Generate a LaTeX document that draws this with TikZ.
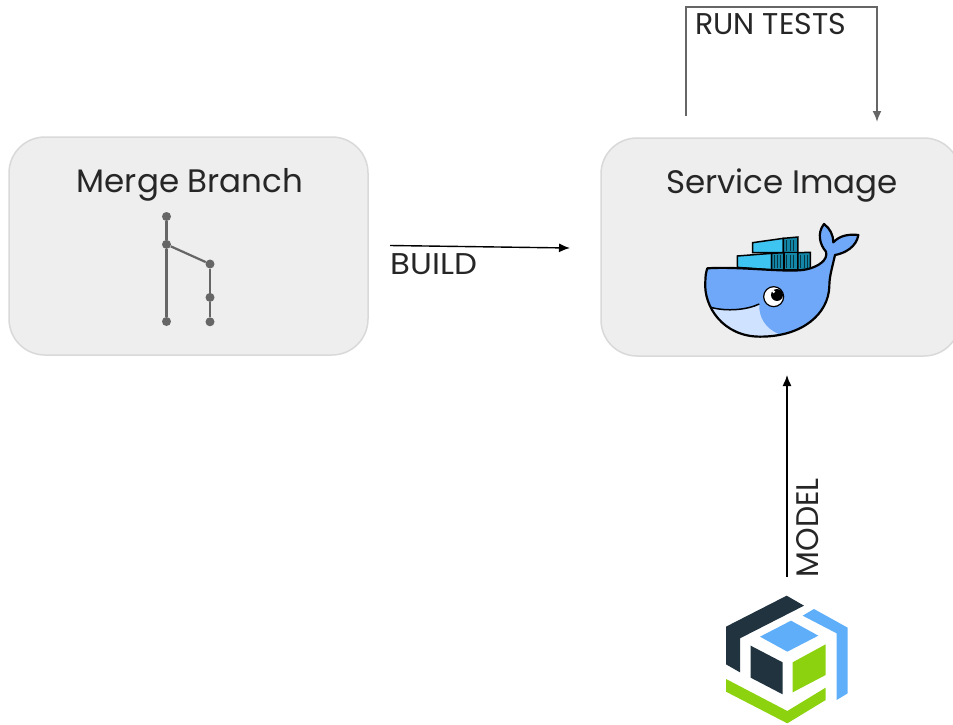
\documentclass[tikz,border=0pt]{standalone}
\usepackage{fontspec}
\setmainfont{Poppins}
\usetikzlibrary{positioning}
\usetikzlibrary{arrows.meta}
\definecolor{boxfill}{HTML}{EEEEEE}
\definecolor{boxline}{HTML}{D9D9D9}
\definecolor{gitgray}{HTML}{666666}
\definecolor{whaleblue}{HTML}{6FA8F8}
\definecolor{bellyblue}{HTML}{CFE2FF}
\definecolor{crateblue}{HTML}{3EC4F0}
\definecolor{cratedark}{HTML}{1486A8}
\definecolor{logodark}{HTML}{20333F}
\definecolor{logoblue}{HTML}{5FAEFA}
\definecolor{logogreen}{HTML}{8CD20E}
\begin{document}
\begin{tikzpicture}
		[x=1pt, y=-1pt, >={Latex[length=11pt, width=9pt]},
		panel/.style={draw=boxline, line width=1.5pt, fill=boxfill, rounded corners=36pt, minimum width=359pt, minimum height=218pt, inner sep=0pt},
		heading/.style={font=\fontsize{32.5}{36}\selectfont, text=black!85},
		tag/.style={font=\fontsize{30}{34}\selectfont, text=black!85, inner sep=0pt},
		commit/.style={circle, fill=gitgray, inner sep=0pt, minimum size=9pt},
		gitline/.style={draw=gitgray, line width=2.2pt},
		crate/.style={fill=crateblue, draw=black, line width=1.5pt},
		cratebox/.style={fill=cratedark, draw=black, line width=1.5pt}]
		\useasboundingbox (0,0) rectangle (953,724);
		\clip (0,0) rectangle (953,724);

		\node[panel] (merge) at (188.5,246) {};
		\node[panel] (service) at (780.5,247) {};
		\node[heading] (mergetitle) at (190,185) {Merge Branch};
		\node[heading] (servicetitle) at (782,186) {Service Image};

		% git graph
		\node[commit] (c1) at (166.5,216.5) {};
		\node[commit, below=18.5pt of c1] (c2) {};
		\node[commit] (c3) at (166.5,321.5) {};
		\node[commit] (c4) at (210,264) {};
		\node[commit, below=24pt of c4] (c5) {};
		\node[commit, below=15pt of c5] (c6) {};
		\draw[gitline] (c1) -- (c2);
		\draw[gitline] (c2) -- (c3);
		\draw[gitline] (c2) -- (c4);
		\draw[gitline] (c4) -- (c5);
		\draw[gitline] (c5) -- (c6);

		% build
		\coordinate (buildstart) at (390,245.5);
		\coordinate (buildend) at (570,248);
		\draw[->, line width=1.4pt] (buildstart) -- (buildend);
		\node[tag, xscale=1.08, anchor=north west] (build) at (390.5,253.5) {BUILD};

		% run tests
		\coordinate (testsstart) at (686,115.5);
		\coordinate (testsend) at (877,122);
		\draw[->, draw=gitgray, line width=1.8pt] (testsstart) |- (877,7) -- (testsend);
		\node[tag, anchor=north west] (tests) at (695,13.5) {RUN TESTS};

		% model
		\coordinate (modelstart) at (787,577);
		\coordinate (modelend) at (787,375);
		\draw[->, line width=1.4pt] (modelstart) -- (modelend);
		\node[tag, xscale=1.04, rotate=90, anchor=north west] (model) at (796.5,577.5) {MODEL};

		% whale
		\begin{scope}[shift={(680,210)}, scale=0.3333]
			\filldraw[crate] (218,98) -- (310,85) -- (310,128) -- (218,128) -- cycle;
			\filldraw[cratebox] (310,85) -- (354,81) -- (354,128) -- (310,128) -- cycle;
			\filldraw[crate] (172,138) -- (275,130) -- (275,180) -- (172,172) -- cycle;
			\filldraw[cratebox] (275,130) -- (312,128) -- (312,180) -- (275,180) -- cycle;
			\filldraw[cratebox] (312,128) -- (354,128) -- (354,180) -- (312,180) -- cycle;
			\filldraw[cratebox] (354,128) -- (391,127) -- (391,178) -- (354,180) -- cycle;
			\foreach \sx in {282,292,302,320,330,340,362,372,382}
				\draw[black!60!cratedark, line width=0.6pt] (\sx,134) -- (\sx,174);
			\foreach \sx in {320,330,340}
				\draw[black!60!cratedark, line width=0.6pt] (\sx,90) -- (\sx,122);
			\fill[whaleblue] (82,175) .. controls (180,168) and (330,190) .. (380,178)
				.. controls (415,170) and (445,150) .. (438,125)
				.. controls (420,105) and (410,70) .. (432,42)
				.. controls (450,55) and (460,75) .. (460,97)
				.. controls (480,75) and (510,72) .. (535,75)
				.. controls (530,110) and (495,130) .. (465,135)
				.. controls (455,180) and (448,200) .. (448,230)
				.. controls (445,310) and (370,380) .. (240,380)
				.. controls (130,380) and (70,290) .. (76,215)
				.. controls (76,200) and (78,185) .. (82,175) -- cycle;
			\fill[bellyblue] (92,292) .. controls (140,305) and (200,300) .. (238,282)
				.. controls (235,320) and (255,355) .. (295,372)
				.. controls (275,378) and (255,380) .. (240,380)
				.. controls (170,380) and (115,345) .. (92,292) -- cycle;
			\draw[black, line width=1.5pt] (92,292) .. controls (140,305) and (200,300) .. (238,282);
			\draw[black, line width=2.2pt, line join=round] (82,175) .. controls (180,168) and (330,190) .. (380,178)
				.. controls (415,170) and (445,150) .. (438,125)
				.. controls (420,105) and (410,70) .. (432,42)
				.. controls (450,55) and (460,75) .. (460,97)
				.. controls (480,75) and (510,72) .. (535,75)
				.. controls (530,110) and (495,130) .. (465,135)
				.. controls (455,180) and (448,200) .. (448,230)
				.. controls (445,310) and (370,380) .. (240,380)
				.. controls (130,380) and (70,290) .. (76,215)
				.. controls (76,200) and (78,185) .. (82,175) -- cycle;
			\filldraw[fill=white, draw=black, line width=1.2pt] (281,260) circle (30);
			\fill[black] (291,255) circle (18);
			\fill[white] (281,245) circle (5);
		\end{scope}

		% model logo
		\begin{scope}[shift={(710,585)}, scale=0.3333]
			\fill[logodark] (48,125) -- (230,32) -- (282,62) -- (90,160) -- (90,262) -- (48,238) -- cycle;
			\fill[logoblue] (278,92) -- (312,72) -- (413,128) -- (413,325) -- (380,345) -- (380,145) -- cycle;
			\fill[logoblue] (150,155) -- (243,107) -- (325,152) -- (232,200) -- cycle;
			\fill[logodark] (122,182) -- (218,232) -- (218,328) -- (122,278) -- cycle;
			\fill[logogreen] (248,232) -- (347,178) -- (347,270) -- (248,322) -- cycle;
			\fill[logogreen] (48,282) -- (232,378) -- (347,308) -- (347,345) -- (232,415) -- (48,320) -- cycle;
		\end{scope}
	\end{tikzpicture}
\end{document}
